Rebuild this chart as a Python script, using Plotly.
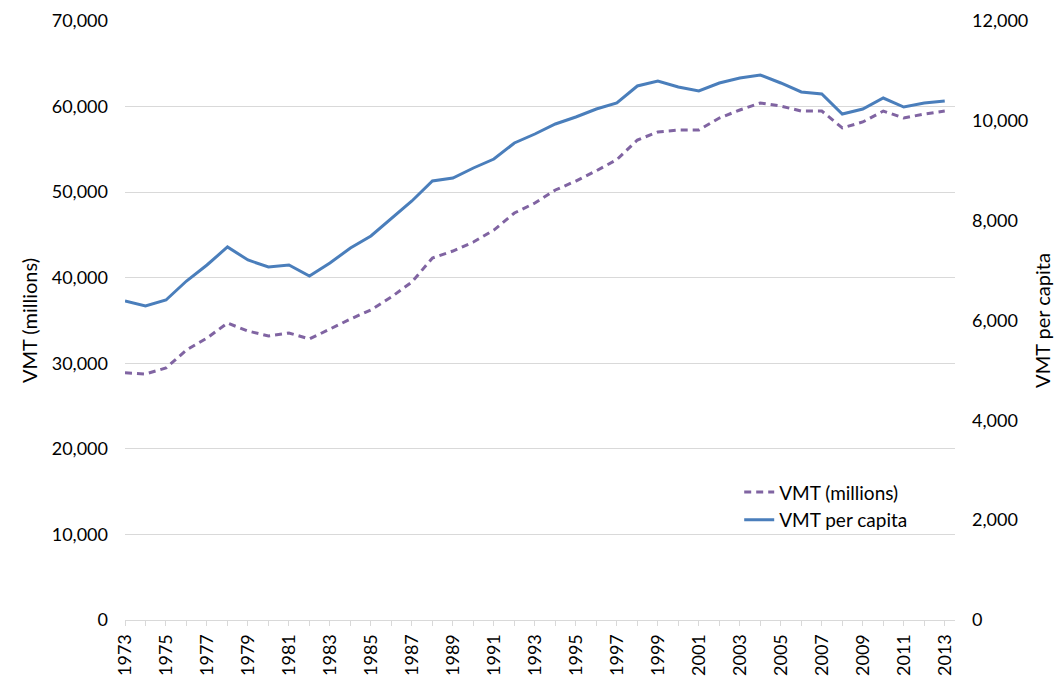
import plotly.graph_objects as go

years = list(range(1973, 2014))
vmt_millions = [28900, 28750, 29450, 31550, 32950, 34700, 33770, 33190, 33540, 32840,
                34000, 35170, 36230, 37750, 39500, 42300, 43120, 44170, 45570, 47560,
                48730, 50250, 51300, 52500, 53800, 56090, 57030, 57260, 57260, 58660,
                59600, 60420, 60060, 59480, 59480, 57500, 58200, 59480, 58660, 59130, 59480]
vmt_per_capita = [6391, 6290, 6411, 6791, 7112, 7473, 7212, 7072, 7112, 6891,
                  7152, 7452, 7693, 8053, 8394, 8794, 8855, 9055, 9235, 9556,
                  9736, 9937, 10077, 10237, 10357, 10698, 10798, 10678, 10598, 10758,
                  10858, 10918, 10758, 10578, 10538, 10137, 10237, 10457, 10277, 10357, 10397]

FONT = "Lato"

fig = go.Figure()
fig.add_trace(go.Scatter(x=years, y=vmt_millions, name="VMT (millions)", mode="lines",
                         line=dict(color="#8064A2", width=3, dash="7px,5px"), yaxis="y"))
fig.add_trace(go.Scatter(x=years, y=vmt_per_capita, name="VMT per capita", mode="lines",
                         line=dict(color="#4A7EBB", width=3), yaxis="y2"))

fig.update_layout(
    width=1054, height=669,
    margin=dict(l=117, r=107, t=13, b=57, autoexpand=False),
    paper_bgcolor="white", plot_bgcolor="white",
    font=dict(family=FONT, size=18, color="#000000"),
    showlegend=True,
    legend=dict(x=0.74, y=0.245, xanchor="left", yanchor="top",
                bgcolor="rgba(0,0,0,0)", font=dict(size=19), tracegroupgap=0),
    xaxis=dict(range=[1973, 2013.5], tickmode="array",
               tickvals=years[::2], ticktext=[str(y) for y in years[::2]],
               tickangle=-90, tickfont=dict(size=18),
               showgrid=False, zeroline=False,
               showline=True, linecolor="#D9D9D9", linewidth=1,
               ticks="", ticklen=0, ticklabelstandoff=6),
    yaxis=dict(range=[0, 70000], dtick=10000, tickformat=",d",
               showgrid=True, gridcolor="#D9D9D9", gridwidth=1,
               zeroline=False, showline=False, ticks="", ticklabelstandoff=16,
               title=dict(text="VMT (millions)", font=dict(size=20), standoff=8)),
    yaxis2=dict(range=[0, 12000], dtick=2000, tickformat=",d", overlaying="y", side="right",
                showgrid=False, zeroline=False, showline=False, ticks="", ticklabelstandoff=16,
                title=dict(text="VMT per capita", font=dict(size=20), standoff=8)),
)

# minor tick marks at every year along the x axis
fig.update_xaxes(minor=dict(tickvals=years, ticks="outside", ticklen=5, tickcolor="#D9D9D9", showgrid=False))

fig.write_html("out.html")
